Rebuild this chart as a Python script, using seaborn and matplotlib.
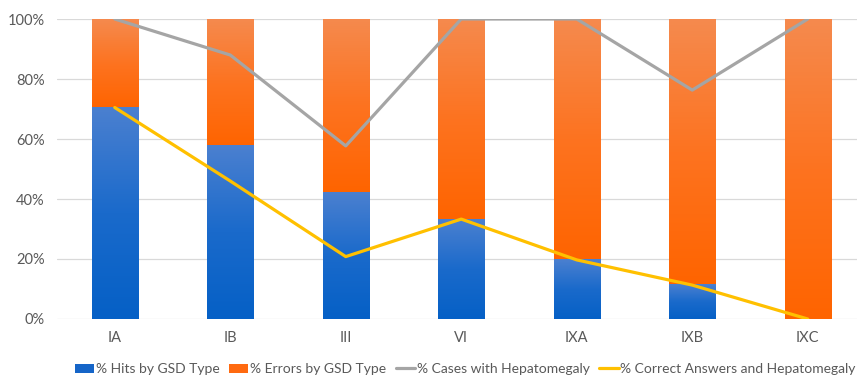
import numpy as np
import pandas as pd
import matplotlib
matplotlib.use("Agg")
import matplotlib.pyplot as plt
from matplotlib.colors import LinearSegmentedColormap
from matplotlib.patches import Patch
from matplotlib.lines import Line2D
import seaborn as sns

# GSD types and percentages
gsd_types = ["IA", "IB", "III", "VI", "IXA", "IXB", "IXC"]
hits_pct = [70.5, 57.7, 42.3, 33.3, 20.0, 11.5, 0.0]
errors_pct = [29.5, 42.3, 57.7, 66.7, 80.0, 88.5, 100.0]
hepatomegaly_pct = [100.0, 88.0, 57.7, 100.0, 100.0, 76.3, 100.0]
correct_hep_pct = [70.5, 46.0, 20.8, 33.3, 19.7, 11.3, 0.0]
y_ticks = [0, 20, 40, 60, 80, 100]
y_tick_labels = ["0%", "20%", "40%", "60%", "80%", "100%"]

sns.set_theme(style="white")
plt.rcParams["font.family"] = ["Lato", "DejaVu Sans"]

df = pd.DataFrame({
    "type": gsd_types,
    "hits": hits_pct,
    "errors": errors_pct,
    "total": np.array(hits_pct) + np.array(errors_pct),
    "hep": hepatomegaly_pct,
    "correct": correct_hep_pct,
})

fig = plt.figure(figsize=(8.57, 3.78), dpi=100)
ax = fig.add_axes([57 / 857, 1 - 319 / 378, 1 - 57 / 857, 300 / 378])

bar_w = 0.4
sns.barplot(data=df, x="type", y="total", color="#ff6a00", width=bar_w,
            ax=ax, saturation=1, zorder=2)
sns.barplot(data=df, x="type", y="hits", color="#0a62c8", width=bar_w,
            ax=ax, saturation=1, zorder=3)

# vertical gradients on each stacked segment
orange_cm = LinearSegmentedColormap.from_list(
    "og", [(0, "#ff6400"), (0.5, "#fd7320"), (1, "#f58a4e")])
blue_cm = LinearSegmentedColormap.from_list(
    "bg", [(0, "#0560c6"), (0.5, "#1a6acb"), (1, "#4b80d0")])
grad = np.linspace(0, 1, 256).reshape(-1, 1)
n = len(gsd_types)
for i, patch in enumerate(ax.patches):
    x0 = patch.get_x()
    w = patch.get_width()
    if i < n:
        lo, hi, cm = df["hits"][i], df["total"][i], orange_cm
    else:
        lo, hi, cm = 0, df["hits"][i - n], blue_cm
    patch.set_facecolor("none")
    patch.set_edgecolor("none")
    if hi - lo <= 0:
        continue
    ax.imshow(grad, cmap=cm, origin="lower", aspect="auto",
              extent=(x0, x0 + w, lo, hi), zorder=2 + (i >= n),
              interpolation="bilinear")

xs = np.arange(n)
sns.lineplot(x=xs, y=df["hep"], color="#a5a5a5", linewidth=2.3, ax=ax,
             zorder=5)
sns.lineplot(x=xs, y=df["correct"], color="#ffc000", linewidth=2.3, ax=ax,
             zorder=6)

ax.set_xlim(-0.5, -0.5 + 800 / 115.5)
ax.set_ylim(0, 100)
ax.set_yticks(y_ticks)
ax.set_yticklabels(y_tick_labels)
ax.set_xticks(xs)
ax.set_xticklabels(gsd_types)
ax.set_xlabel("")
ax.set_ylabel("")
ax.grid(axis="y", color="#d9d9d9", linewidth=0.9, zorder=0)
ax.set_axisbelow(True)
for s in ax.spines.values():
    s.set_visible(False)
ax.tick_params(axis="both", length=0, labelsize=10.5, labelcolor="#595959")
ax.tick_params(axis="y", pad=9)
ax.tick_params(axis="x", pad=9)

handles = [
    Patch(facecolor="#1565c8", edgecolor="none"),
    Patch(facecolor="#ff6a10", edgecolor="none"),
    Line2D([0], [0], color="#a5a5a5", linewidth=2.3),
    Line2D([0], [0], color="#ffc000", linewidth=2.3),
]
labels = ["% Hits by GSD Type", "% Errors by GSD Type",
          "% Cases with Hepatomegaly", "% Correct Answers and Hepatomegaly"]
leg = fig.legend(handles, labels, loc="center", ncol=4,
                 bbox_to_anchor=(465 / 857, 1 - 369 / 378), frameon=False,
                 fontsize=10, handlelength=1.4, handleheight=0.6,
                 handletextpad=0.1, columnspacing=0.7)
for t in leg.get_texts():
    t.set_color("#595959")

fig.savefig("out.png", dpi=100)
